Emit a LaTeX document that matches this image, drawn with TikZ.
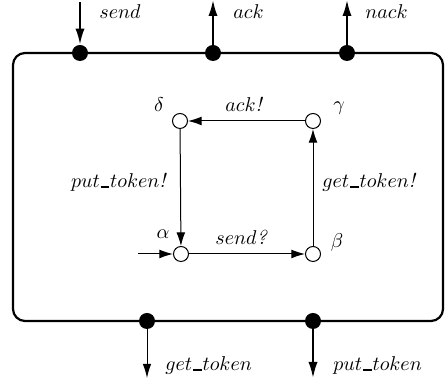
\documentclass[tikz,border=0pt]{standalone}
\usetikzlibrary{arrows.meta}
\newcommand\usc{\kern0.05em\rule{0.42em}{0.1em}\kern0.05em}
\begin{document}
\begin{tikzpicture}[x=0.5pt,y=-0.5pt,
  port/.style={circle,fill=black,inner sep=0pt,minimum size=8pt},
  state/.style={circle,draw,line width=0.5pt,inner sep=0pt,minimum size=7.5pt,fill=white},
  lab/.style={inner sep=0pt},
  edge/.style={line width=0.5pt,-{Latex[length=6.8pt,width=4.4pt]}},
  bigarrow/.style={line width=1pt,-{Latex[length=8pt,width=4.6pt]}},
  thinarrow/.style={line width=0.5pt,-{Latex[length=7pt,width=4.2pt]}},
  boxline/.style={line width=1.1pt,rounded corners=6pt}]
\useasboundingbox (0,0) rectangle (445,383);
% outer box
\draw[boxline] (13,53) rectangle (443,321);
% ports
\node[port] (psend) at (80,53) {};
\node[port] (pack) at (213,53) {};
\node[port] (pnack) at (347,53) {};
\node[port] (pget) at (147,321) {};
\node[port] (pput) at (313,321) {};
\coordinate (esend) at (80,2);
\coordinate (eack) at (213,0);
\coordinate (enack) at (347,0);
\coordinate (eget) at (147,378);
\coordinate (eput) at (313,378);
\draw[bigarrow] (esend) -- (psend);
\draw[bigarrow] (pack) -- (eack);
\draw[bigarrow] (pnack) -- (enack);
\draw[thinarrow] (pget) -- (eget);
\draw[bigarrow] (pput) -- (eput);
\node[lab,anchor=base west] (lsend) at (99,19) {$send$};
\node[lab,anchor=base west] (lack) at (233,19) {$ack$};
\node[lab,anchor=base west] (lnack) at (365,19) {$nack$};
\node[lab,anchor=base west] (lget) at (165,371) {$get\usc token$};
\node[lab,anchor=base west] (lput) at (333,371) {$put\usc token$};
% states
\node[state] (delta) at (180,121) {};
\node[state] (gamma) at (313,121) {};
\node[state] (alpha) at (181,254) {};
\node[state] (beta) at (313,254) {};
\node[lab] (ldelta) at (159,105) {$\delta$};
\node[lab] (lgamma) at (339,108) {$\gamma$};
\node[lab] (lalpha) at (163,234) {$\alpha$};
\node[lab] (lbeta) at (337,243) {$\beta$};
\coordinate (init) at (138,254);
\draw[edge] (init) -- (alpha);
\draw[edge] (alpha) -- (beta);
\draw[edge] (beta) -- (gamma);
\draw[edge] (gamma) -- (delta);
\draw[edge] (delta) -- (alpha);
\node[lab,anchor=base west] (lsendq) at (215,245) {$send\textit{?}$};
\node[lab,anchor=base west] (lackx) at (225,112) {$ack\textit{!}$};
\node[lab,anchor=base east] (lputx) at (166,188) {$put\usc token\textit{!}$};
\node[lab,anchor=base west] (lgetx) at (322,188) {$get\usc token\textit{!}$};
\end{tikzpicture}
\end{document}
